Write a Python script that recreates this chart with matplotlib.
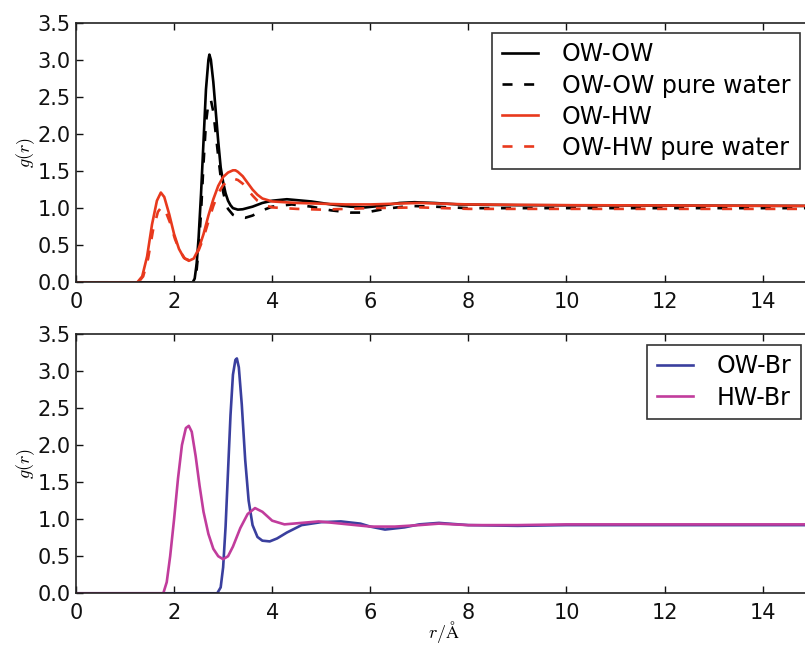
import matplotlib
matplotlib.use("Agg")
import matplotlib.pyplot as plt

# radial distribution functions, r in Angstrom
r_ow_ow = [0.0, 2.38, 2.42, 2.46, 2.50, 2.55, 2.60, 2.65, 2.70, 2.72, 2.75, 2.80, 2.85, 2.90,
           2.95, 3.00, 3.05, 3.10, 3.15, 3.20, 3.30, 3.40, 3.60, 3.80, 4.00, 4.30, 4.80, 5.20,
           5.60, 5.90, 6.20, 6.60, 6.90, 7.30, 7.80, 9.00, 15.0]
g_ow_ow = [0.0, 0.0, 0.05, 0.25, 0.60, 1.20, 1.90, 2.60, 3.00, 3.07, 3.00, 2.70, 2.30, 1.90,
           1.55, 1.35, 1.20, 1.10, 1.04, 1.00, 0.98, 0.985, 1.02, 1.07, 1.10, 1.12, 1.09, 1.05,
           1.02, 1.01, 1.03, 1.07, 1.08, 1.07, 1.05, 1.04, 1.03]

r_ow_ow_pure = [0.0, 2.40, 2.45, 2.50, 2.55, 2.60, 2.65, 2.70, 2.75, 2.80, 2.85, 2.90, 2.95,
                3.00, 3.05, 3.10, 3.20, 3.30, 3.45, 3.60, 3.80, 4.00, 4.40, 4.80, 5.20, 5.60,
                5.90, 6.30, 6.80, 7.30, 8.00, 15.0]
g_ow_ow_pure = [0.0, 0.0, 0.10, 0.45, 0.95, 1.60, 2.15, 2.42, 2.46, 2.30, 2.00, 1.70, 1.42,
                1.22, 1.08, 0.99, 0.91, 0.88, 0.87, 0.90, 0.97, 1.02, 1.05, 1.02, 0.97, 0.94,
                0.94, 0.99, 1.03, 1.02, 1.00, 1.00]

r_ow_hw = [0.0, 1.25, 1.35, 1.45, 1.55, 1.65, 1.73, 1.80, 1.90, 2.00, 2.10, 2.20, 2.30, 2.40,
           2.50, 2.60, 2.70, 2.80, 2.90, 3.00, 3.10, 3.20, 3.25, 3.30, 3.40, 3.50, 3.60, 3.70,
           3.80, 4.00, 4.50, 5.00, 5.50, 6.00, 6.50, 7.00, 7.50, 8.00, 10.0, 15.0]
g_ow_hw = [0.0, 0.0, 0.08, 0.35, 0.78, 1.10, 1.21, 1.15, 0.92, 0.65, 0.45, 0.33, 0.29, 0.32,
           0.45, 0.65, 0.90, 1.12, 1.30, 1.42, 1.48, 1.51, 1.51, 1.49, 1.43, 1.34, 1.25, 1.18,
           1.13, 1.09, 1.07, 1.06, 1.05, 1.05, 1.06, 1.07, 1.06, 1.05, 1.04, 1.03]

r_ow_hw_pure = [0.0, 1.27, 1.37, 1.47, 1.57, 1.67, 1.75, 1.82, 1.92, 2.02, 2.12, 2.22, 2.30,
                2.40, 2.50, 2.60, 2.70, 2.80, 2.90, 3.00, 3.10, 3.20, 3.30, 3.40, 3.50, 3.60,
                3.70, 3.85, 4.00, 4.50, 5.00, 5.50, 6.00, 7.00, 8.00, 10.0, 15.0]
g_ow_hw_pure = [0.0, 0.0, 0.08, 0.32, 0.70, 0.95, 1.02, 0.97, 0.80, 0.58, 0.42, 0.32, 0.30,
                0.33, 0.43, 0.60, 0.82, 1.03, 1.20, 1.31, 1.37, 1.40, 1.38, 1.33, 1.25, 1.17,
                1.10, 1.04, 1.01, 0.99, 0.98, 0.99, 1.00, 1.01, 0.99, 0.99, 0.99]

r_ow_br = [0.0, 2.88, 2.95, 3.00, 3.05, 3.10, 3.15, 3.20, 3.25, 3.28, 3.32, 3.38, 3.45, 3.52,
           3.60, 3.70, 3.80, 3.95, 4.10, 4.30, 4.60, 5.00, 5.40, 5.80, 6.00, 6.30, 6.70, 7.00,
           7.40, 8.00, 9.00, 10.0, 12.0, 15.0]
g_ow_br = [0.0, 0.0, 0.08, 0.35, 0.90, 1.65, 2.40, 2.95, 3.15, 3.17, 3.05, 2.55, 1.80, 1.25,
           0.92, 0.76, 0.71, 0.70, 0.74, 0.82, 0.92, 0.96, 0.97, 0.94, 0.90, 0.86, 0.89, 0.93,
           0.95, 0.92, 0.91, 0.92, 0.92, 0.92]

r_hw_br = [0.0, 1.78, 1.85, 1.92, 2.00, 2.08, 2.16, 2.24, 2.30, 2.36, 2.44, 2.52, 2.60, 2.70,
           2.80, 2.90, 3.00, 3.10, 3.20, 3.35, 3.50, 3.65, 3.80, 4.00, 4.25, 4.60, 4.95, 5.40,
           6.00, 6.50, 7.00, 7.40, 8.00, 9.00, 10.0, 15.0]
g_hw_br = [0.0, 0.0, 0.15, 0.50, 1.00, 1.55, 2.00, 2.23, 2.26, 2.18, 1.85, 1.45, 1.10, 0.80,
           0.60, 0.50, 0.46, 0.50, 0.63, 0.88, 1.07, 1.15, 1.10, 0.98, 0.93, 0.95, 0.97, 0.94,
           0.90, 0.90, 0.92, 0.94, 0.92, 0.92, 0.93, 0.93]

RED = "#e8391d"
BLUE = "#3a3f9e"
MAGENTA = "#c13c9c"
LW = 1.9
DASH = (0, (3.8, 4.4))

plt.rcParams["font.family"] = "DejaVu Sans"
plt.rcParams["mathtext.fontset"] = "cm"

fig = plt.figure(figsize=(8.05, 6.45), dpi=100)
ax_top = fig.add_axes([0.0944, 0.5623, 0.9139, 0.4025])
ax_bot = fig.add_axes([0.0944, 0.0802, 0.9139, 0.4020])

ax_top.plot(r_ow_ow, g_ow_ow, color="black", lw=LW, label="OW-OW")
ax_top.plot(r_ow_ow_pure, g_ow_ow_pure, color="black", lw=LW, linestyle=DASH,
            label="OW-OW pure water")
ax_top.plot(r_ow_hw, g_ow_hw, color=RED, lw=LW, label="OW-HW")
ax_top.plot(r_ow_hw_pure, g_ow_hw_pure, color=RED, lw=LW, linestyle=DASH,
            label="OW-HW pure water")

ax_bot.plot(r_ow_br, g_ow_br, color=BLUE, lw=LW, label="OW-Br")
ax_bot.plot(r_hw_br, g_hw_br, color=MAGENTA, lw=LW, label="HW-Br")

for ax in (ax_top, ax_bot):
    ax.set_xlim(0, 15)
    ax.set_ylim(0, 3.5)
    ax.set_xticks([0, 2, 4, 6, 8, 10, 12, 14])
    ax.set_yticks([0.0, 0.5, 1.0, 1.5, 2.0, 2.5, 3.0, 3.5])
    ax.set_yticklabels(["0.0", "0.5", "1.0", "1.5", "2.0", "2.5", "3.0", "3.5"])
    ax.tick_params(direction="in", length=5, width=1, top=True, right=True,
                   labelsize=15, colors="#111111")
    ax.tick_params(axis="x", pad=7)
    ax.tick_params(axis="y", pad=4)
    for sp in ax.spines.values():
        sp.set_linewidth(1.2)
        sp.set_color("#222222")
    ax.set_ylabel(r"$g(r)$", fontsize=13)
    ax.yaxis.set_label_coords(-0.053, 0.5)

ax_bot.set_xlabel(r"$r/\mathrm{\AA}$", fontsize=13)
ax_bot.xaxis.set_label_coords(0.5, -0.100)

leg_kw = dict(fontsize=17, frameon=True, fancybox=False, edgecolor="black",
              handlelength=1.55, handletextpad=1.0, labelspacing=0.3,
              borderaxespad=0, bbox_transform=fig.transFigure, loc="upper right")
lg = ax_top.legend(bbox_to_anchor=(800 / 805, 1 - 33 / 645), **leg_kw)
lg.get_frame().set_linewidth(1.2)
lg2 = ax_bot.legend(bbox_to_anchor=(801 / 805, 1 - 345 / 645), **leg_kw)
lg2.get_frame().set_linewidth(1.2)

fig.savefig("out.png", dpi=100)
